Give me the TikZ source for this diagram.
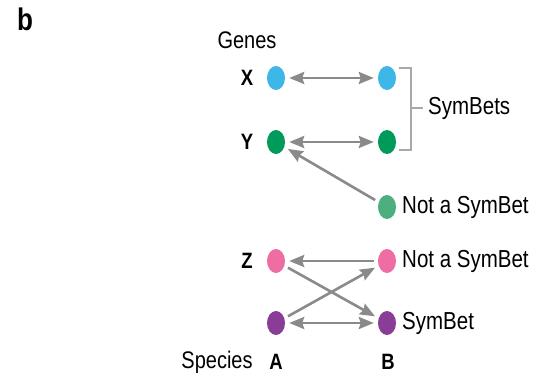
\documentclass[tikz,border=0pt]{standalone}
\usepackage{fontspec}
\setmainfont{Liberation Sans}
\usetikzlibrary{arrows.meta,shapes.geometric}
\definecolor{cblue}{HTML}{3DB6E8}
\definecolor{cgreen}{HTML}{009A5B}
\definecolor{clgreen}{HTML}{4DAF80}
\definecolor{cpink}{HTML}{EE6DA3}
\definecolor{cpurple}{HTML}{8A3D97}
\definecolor{cgray}{HTML}{8A8A8A}
\definecolor{cbrack}{HTML}{A8A8A8}
\newcommand{\tallt}[1]{\scalebox{1}[1.2]{#1}}
\begin{document}
\begin{tikzpicture}[x=1pt,y=-1pt,
  dot/.style={ellipse,minimum width=18pt,minimum height=24pt,inner sep=0pt,fill=#1},
  lbl/.style={font=\fontsize{20.5}{24}\selectfont,anchor=west,inner sep=0pt},
  plain/.style={font=\fontsize{20}{24}\selectfont,inner sep=0pt},
  blbl/.style={font=\bfseries\fontsize{18.5}{22}\selectfont,inner sep=0pt},
  conn/.style={draw=cgray,line width=2.6pt,shorten <=4pt,shorten >=4pt},
  tip/.style={-{Stealth[length=15pt,width=12pt,inset=2pt]}},
  dtip/.style={{Stealth[length=15pt,width=12pt,inset=2pt]}-{Stealth[length=15pt,width=12pt,inset=2pt]}}]
\useasboundingbox (0,0) rectangle (540,374);
\node[font=\bfseries\fontsize{26}{30}\selectfont,inner sep=0pt] (b) at (25,19) {\tallt{b}};
\node[plain] (genes) at (247,40) {\tallt{Genes}};
\node[blbl] (lx) at (247,78) {\tallt{X}};
\node[blbl] (ly) at (247,142) {\tallt{Y}};
\node[blbl] (lz) at (247,261) {\tallt{Z}};
\node[plain] (species) at (217,362) {\tallt{Species}};
\node[blbl] (la) at (276,362) {\tallt{A}};
\node[blbl] (lb) at (388,362) {\tallt{B}};
\node[dot=cblue] (xa) at (276,78) {};
\node[dot=cblue] (xb) at (387,78) {};
\node[dot=cgreen] (ya) at (276,142) {};
\node[dot=cgreen] (yb) at (387,142) {};
\node[dot=clgreen] (nb) at (387,207) {};
\node[dot=cpink] (za) at (276,261) {};
\node[dot=cpink] (zb) at (387,261) {};
\node[dot=cpurple] (pa) at (276,323) {};
\node[dot=cpurple] (pb) at (387,323) {};
\node[lbl] (tn1) at (402,207) {\tallt{Not a SymBet}};
\node[lbl] (tn2) at (402,261) {\tallt{Not a SymBet}};
\node[lbl] (ts) at (402,323) {\tallt{SymBet}};
\node[lbl] (tsym) at (428,108) {\tallt{SymBets}};
\coordinate (bt) at (399,68);
\coordinate (bb) at (399,150);
\coordinate (bm) at (423,108);
\draw[cbrack,line width=1.4pt] (bt) -- (411,68) -- (411,150) -- (bb);
\draw[cbrack,line width=1.4pt] (411,108) -- (bm);
\draw[conn,dtip] (xa) -- (xb);
\draw[conn,dtip] (ya) -- (yb);
\draw[conn,tip] (nb) -- (ya);
\draw[conn,tip] (zb) -- (za);
\draw[conn,tip] (za) -- (pb);
\draw[conn,tip] (pa) -- (zb);
\draw[conn,dtip] (pa) -- (pb);
\end{tikzpicture}
\end{document}
